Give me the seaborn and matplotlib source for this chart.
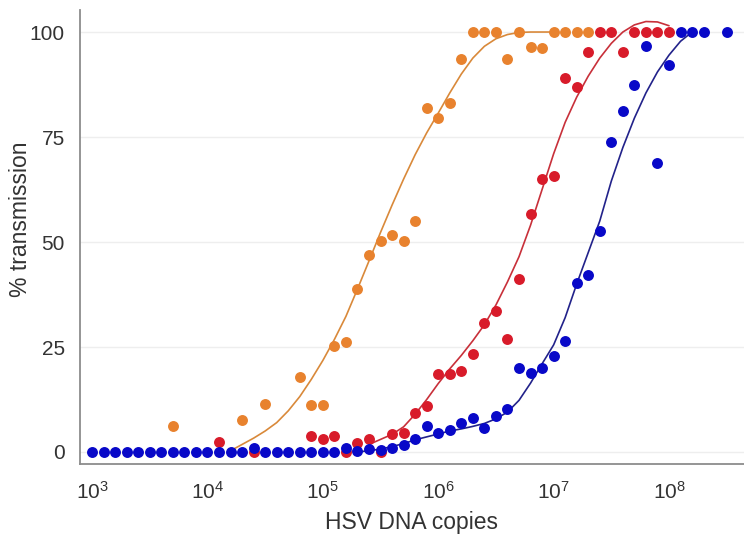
import numpy as np
import pandas as pd
import matplotlib.pyplot as plt
import seaborn as sns

# ---- observed points (log10 of HSV DNA copies, % transmission) ----
orange_log = [3.7, 4.3, 4.5, 4.8, 4.9, 5.0, 5.1, 5.2, 5.3, 5.4, 5.5, 5.6, 5.7, 5.8,
              5.9, 6.0, 6.1, 6.2, 6.3, 6.4, 6.5, 6.6, 6.7, 6.8, 6.9, 7.0, 7.1, 7.2, 7.3]
orange_pct = [6.2, 7.6, 11.4, 17.8, 11.3, 11.3, 25.3, 26.1, 38.8, 46.9, 50.2, 51.7, 50.2, 55.1,
              81.8, 79.5, 83.2, 93.5, 100, 100, 100, 93.5, 100, 96.5, 96.3, 100, 100, 100, 100]

red_log = [4.1, 4.4, 4.9, 5.0, 5.1, 5.2, 5.3, 5.4, 5.5, 5.6, 5.7, 5.8, 5.9, 6.0, 6.1,
           6.2, 6.3, 6.4, 6.5, 6.6, 6.7, 6.8, 6.9, 7.0, 7.1, 7.2, 7.3, 7.4, 7.5, 7.6,
           7.7, 7.8, 7.9, 8.0]
red_pct = [2.3, 0, 3.9, 3.1, 3.8, 0, 2.2, 3.0, 0, 4.3, 4.5, 9.2, 11.0, 18.6, 18.6,
           19.3, 23.3, 30.6, 33.6, 26.9, 41.2, 56.6, 65.0, 65.8, 89.1, 87.0, 95.3, 100, 100, 95.3,
           100, 100, 100, 100]

blue_log = [3.0, 3.1, 3.2, 3.3, 3.4, 3.5, 3.6, 3.7, 3.8, 3.9, 4.0, 4.1, 4.2, 4.3, 4.4,
            4.5, 4.6, 4.7, 4.8, 4.9, 5.0, 5.1, 5.2, 5.3, 5.4, 5.5, 5.6, 5.7, 5.8, 5.9,
            6.0, 6.1, 6.2, 6.3, 6.4, 6.5, 6.6, 6.7, 6.8, 6.9, 7.0, 7.1, 7.2, 7.3, 7.4,
            7.5, 7.6, 7.7, 7.8, 7.9, 8.0, 8.1, 8.2, 8.3, 8.5]
blue_pct = [0, 0, 0, 0, 0, 0, 0, 0, 0, 0, 0, 0, 0, 0, 1.0,
            0, 0, 0, 0, 0, 0, 0, 0.9, 0.3, 0.8, 0.4, 0.9, 1.7, 3.2, 6.1,
            4.5, 5.2, 7.0, 8.0, 5.6, 8.6, 10.2, 19.9, 18.7, 19.9, 22.9, 26.5, 40.2, 42.1, 52.7,
            73.9, 81.2, 87.4, 96.7, 68.7, 92.1, 100, 100, 100, 100]

# ---- fitted curves ----
orange_fit_log = [4.2, 4.3, 4.4, 4.5, 4.6, 4.7, 4.8, 4.9, 5.0, 5.1, 5.2, 5.3, 5.4, 5.5, 5.6,
                  5.7, 5.8, 5.9, 6.0, 6.1, 6.2, 6.3, 6.4, 6.5, 6.6, 6.7, 6.8, 6.9, 7.0]
orange_fit_pct = [0.3, 1.8, 3.3, 5.0, 7.0, 9.8, 13.2, 17.3, 21.8, 26.8, 32.3, 38.8, 45.5, 52.3, 58.8,
                  65.0, 70.8, 76.0, 80.7, 85.5, 90.0, 93.8, 96.6, 98.4, 99.4, 99.9, 100, 100, 100]

red_fit_log = [5.4, 5.5, 5.6, 5.7, 5.8, 5.9, 6.0, 6.1, 6.2, 6.3, 6.4, 6.5, 6.6, 6.7,
               6.8, 6.9, 7.0, 7.1, 7.2, 7.3, 7.4, 7.5, 7.6, 7.7, 7.8, 7.9, 8.0]
red_fit_pct = [1.8, 3.0, 4.2, 6.0, 9.0, 12.5, 16.3, 19.8, 23.0, 26.5, 30.3, 35.0, 40.5, 46.5,
               54.0, 62.5, 71.0, 78.5, 84.5, 89.5, 93.8, 97.3, 100.0, 101.7, 102.5, 102.4, 101.5]

blue_fit_log = [5.3, 5.4, 5.5, 5.6, 5.7, 5.8, 5.9, 6.0, 6.1, 6.2, 6.3, 6.4, 6.5, 6.6, 6.7,
                6.8, 6.9, 7.0, 7.1, 7.2, 7.3, 7.4, 7.5, 7.6, 7.7, 7.8, 7.9, 8.0, 8.1, 8.2]
blue_fit_pct = [0.0, 0.3, 0.7, 1.3, 2.0, 2.9, 3.6, 4.3, 5.0, 5.5, 6.1, 6.8, 7.9, 9.5, 12.3,
                16.4, 21.0, 25.5, 32.0, 40.0, 47.5, 55.0, 64.5, 72.5, 79.5, 85.5, 90.5, 94.5, 97.8, 100.0]

y_ticks = [0, 25, 50, 75, 100]
x_ticks = [1e3, 1e4, 1e5, 1e6, 1e7, 1e8]

groups = [
    ("orange", orange_log, orange_pct, orange_fit_log, orange_fit_pct, "#E8822E", "#D9893A"),
    ("red", red_log, red_pct, red_fit_log, red_fit_pct, "#D81B2A", "#C8303A"),
    ("blue", blue_log, blue_pct, blue_fit_log, blue_fit_pct, "#0808C8", "#22228A"),
]

sns.set_theme(style="white")
plt.rcParams['font.family'] = ['Liberation Sans', 'DejaVu Sans']

fig = plt.figure(figsize=(7.44, 5.36), dpi=100)
ax = fig.add_axes([0.1075, 0.134, 0.8925, 0.847])

# fitted curves first, dots drawn over them
for name, lx, py, flx, fpy, dot_col, line_col in groups:
    fit = pd.DataFrame({"copies": 10 ** np.array(flx), "pct": fpy})
    sns.lineplot(data=fit, x="copies", y="pct", color=line_col, linewidth=1.2, ax=ax, zorder=2)

for name, lx, py, flx, fpy, dot_col, line_col in groups:
    pts = pd.DataFrame({"copies": 10 ** np.array(lx), "pct": py})
    sns.scatterplot(data=pts, x="copies", y="pct", color=dot_col, s=62, linewidth=0,
                    ax=ax, zorder=3)

ax.set_xscale("log")
ax.set_xlim(10 ** 2.895, 10 ** 8.65)
ax.set_ylim(-2.9, 105.2)
ax.set_xticks(x_ticks)
ax.minorticks_off()
ax.set_yticks(y_ticks)
ax.yaxis.grid(True, color="#EEEEEE", linewidth=1.0)
ax.set_axisbelow(True)

for side in ["top", "right"]:
    ax.spines[side].set_visible(False)
for side in ["left", "bottom"]:
    ax.spines[side].set_color("#8C8C8C")
    ax.spines[side].set_linewidth(1.3)

ax.tick_params(axis="both", which="major", direction="out", length=6, width=1,
               color="#8C8C8C", labelsize=15, labelcolor="#333333")
ax.tick_params(axis="x", pad=6)
ax.tick_params(axis="y", pad=5)
ax.set_xlabel("HSV DNA copies", fontsize=16.5, color="#333333", labelpad=6)
ax.set_ylabel("% transmission", fontsize=16.5, color="#333333")
ax.yaxis.set_label_coords(-0.073, 0.54)

fig.savefig("out.png", dpi=100)
